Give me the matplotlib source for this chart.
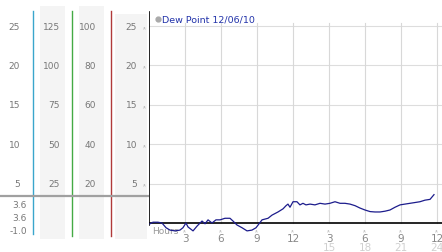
import numpy as np
import matplotlib
matplotlib.use('Agg')
import matplotlib.pyplot as plt

# dew point trace, hours since midnight 12/06/10
hours = [0.08, 0.33, 0.75, 1.08, 1.42, 1.75, 2.17, 2.58, 2.83, 3.08, 3.25, 3.67,
         4.0, 4.42, 4.67, 4.92, 5.25, 5.58, 5.92, 6.33, 6.75, 7.0, 7.33, 7.75,
         8.17, 8.58, 8.92, 9.17, 9.42, 9.92, 10.25, 10.75, 11.17, 11.42, 11.58,
         11.75, 12.0, 12.33, 12.58, 12.83, 13.08, 13.42, 13.83, 14.25, 14.67,
         15.08, 15.5, 15.92, 16.33, 16.75, 17.17, 17.58, 18.0, 18.42, 18.83,
         19.25, 19.67, 20.08, 20.5, 20.92, 21.33, 21.75, 22.17, 22.58, 23.0,
         23.42, 23.75]
dew_point = [-0.1, 0.1, 0.1, 0.0, -0.6, -0.9, -1.0, -0.9, -0.6, 0.0, -0.5, -1.0,
             -0.4, 0.25, -0.1, 0.4, 0.0, 0.4, 0.4, 0.6, 0.6, 0.25, -0.25, -0.6,
             -1.0, -0.9, -0.6, -0.1, 0.4, 0.6, 1.0, 1.4, 1.8, 2.2, 2.4,
             2.0, 2.7, 2.7, 2.3, 2.5, 2.3, 2.4, 2.3, 2.5, 2.4,
             2.5, 2.7, 2.5, 2.5, 2.4, 2.2, 1.9, 1.65, 1.45, 1.4,
             1.4, 1.5, 1.65, 2.0, 2.3, 2.4, 2.5, 2.6, 2.7, 2.9,
             3.0, 3.6]

y_ticks = [5, 10, 15, 20, 25]
col2_labels = ['25', '50', '75', '100', '125']
col3_labels = ['20', '40', '60', '80', '100']
stat_labels = ['3.6', '3.6', '-1.0']
stat_pos = [2.4, 0.76, -1.0]
hour_ticks = [3, 6, 9, 12, 15, 18, 21, 24]
hour_labels = ['3', '6', '9', '12', '3', '6', '9', '12']
hour_labels2 = ['15', '18', '21', '24']

W, H = 442, 253
ylo, yhi = -3.68, 28.43
fig = plt.figure(figsize=(W / 100, H / 100), dpi=100)

# left scale panels (x in pixels)
left = fig.add_axes([0, 0, 149 / W, 1])
left.set_xlim(0, 149)
left.set_ylim(ylo, yhi)
left.axis('off')
bg = '#f4f4f4'
left.fill_between([40, 65], -2.0, 27.5, color=bg, lw=0)
left.fill_between([79, 104], -2.0, 27.5, color=bg, lw=0)
left.fill_between([115, 147], -2.0, 26.5, color=bg, lw=0)
left.plot([33, 33], [-1.4, 26.9], color='#3aa6cc', lw=1)
left.plot([72, 72], [-1.6, 26.9], color='#44aa44', lw=1)
left.plot([111, 111], [-1.6, 26.9], color='#b03a3a', lw=1)
left.plot([0, 149], [3.43, 3.43], color='#a0a0a0', lw=1.6)
txt = dict(color='#777777', fontsize=6.5, va='center')
for i, v in enumerate(y_ticks):
    left.text(20, v, str(v), ha='right', **txt)
    left.text(60, v, col2_labels[i], ha='right', **txt)
    left.text(96, v, col3_labels[i], ha='right', **txt)
    left.text(137, v, str(v), ha='right', **txt)
    left.text(145, v, '»', ha='center', va='center', color='#999999',
              fontsize=4, rotation=90)
for s, v in zip(stat_labels, stat_pos):
    left.text(27, v, s, ha='right', **txt)

# main chart
ax = fig.add_axes([149 / W, 0, 293 / W, 1])
ax.set_xlim(0, 24.417)
ax.set_ylim(ylo, yhi)
ax.axis('off')
for v in y_ticks:
    ax.plot([0, 24.417], [v, v], color='#dddddd', lw=0.8, zorder=1)
for h in hour_ticks:
    ax.plot([h, h], [0, 25.4], color='#d8d8d8', lw=0.8, zorder=1)
ax.plot([0, 24.417], [0, 0], color='black', lw=1.2, zorder=2)
ax.plot([0, 0], [-0.3, 26.8], color='black', lw=1.2, zorder=2)
ax.plot(hours, dew_point, color='#1c1c8c', lw=0.9, zorder=3)

ax.plot([0.75], [25.9], 'o', color='#aaaaaa', ms=3.5, zorder=4)
ax.text(1.1, 25.9, 'Dew Point 12/06/10', color='#2233aa', fontsize=6.8,
        va='center', ha='left')
ax.text(0.3, -1.0, 'Hours', color='#999999', fontsize=6.5, va='center',
        ha='left', zorder=2)
for h, lab in zip(hour_ticks, hour_labels):
    ax.text(h, -0.8, '»', color='#999999', fontsize=4, ha='center',
            va='center', rotation=90)
    ax.text(h, -1.95, lab, color='#888888', fontsize=7.5, ha='center',
            va='center')
for h, lab in zip(hour_ticks[4:], hour_labels2):
    ax.text(h, -3.05, lab, color='#d0d0d0', fontsize=7.5, ha='center',
            va='center')

fig.savefig('out.png', dpi=100)
